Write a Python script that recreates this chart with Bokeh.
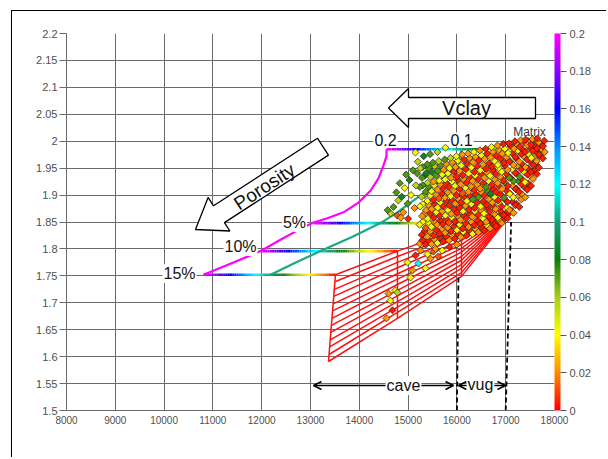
import math
from bokeh.plotting import figure
from bokeh.models import (ColorBar, LinearColorMapper, FixedTicker, CustomJSTickFormatter,
                          Label, Arrow, OpenHead, ColumnDataSource)
from bokeh.embed import file_html
from bokeh.resources import INLINE

# ---------------- data ----------------
x_ticks = [8000, 9000, 10000, 11000, 12000, 13000, 14000, 15000, 16000, 17000, 18000]
y_ticks = [1.5, 1.55, 1.6, 1.65, 1.7, 1.75, 1.8, 1.85, 1.9, 1.95, 2.0, 2.05, 2.1, 2.15, 2.2]
vclay_ticks = [0, 0.02, 0.04, 0.06, 0.08, 0.1, 0.12, 0.14, 0.16, 0.18, 0.2]

# horizontal Vclay lines (porosity 0, 5%, 10%, 15%)
line_vpvs = [1.985, 1.848, 1.796, 1.752]
line_x_clay20 = [14560, 13067, 11975, 10807]   # Vclay = 0.2 end
line_x_clay0 = [17630, 15868, 14782, 13512]    # Vclay = 0 end

# Vclay = 0.2 curve (magenta)
clay20_x = [14560, 14557, 14496, 14393, 14230, 13984, 13676, 13348, 13061, 12727, 12385, 11975, 11422, 10807]
clay20_y = [1.985, 1.972, 1.955, 1.931, 1.908, 1.886, 1.868, 1.857, 1.849, 1.834, 1.817, 1.796, 1.775, 1.752]
# Vclay = 0.1 curve (teal)
clay10_x = [16094, 16050, 15930, 15663, 15350, 15049, 14750, 14434, 13850, 13205, 12700, 12180]
clay10_y = [1.985, 1.968, 1.950, 1.927, 1.905, 1.886, 1.866, 1.848, 1.822, 1.796, 1.775, 1.752]

# red cave mesh
mesh_left_x = [13512, 13500, 13488, 13476, 13464, 13452, 13440, 13428, 13416, 13404, 13392, 13380, 13368]
mesh_left_y = [1.752, 1.739, 1.725, 1.712, 1.698, 1.685, 1.671, 1.658, 1.645, 1.631, 1.618, 1.604, 1.591]
mesh_col_x = [14782, 16094]
mesh_col1_y = [1.796, 1.786, 1.775, 1.765, 1.754, 1.744, 1.734, 1.723, 1.713, 1.702, 1.692, 1.682, 1.671]
mesh_col2_y = [1.838, 1.831, 1.823, 1.816, 1.808, 1.801, 1.794, 1.786, 1.779, 1.771, 1.764, 1.756, 1.749]
mesh_right_x = [17160, 17155, 17150, 17145, 17140, 17135, 17130, 17125, 17120, 17115, 17110, 17105, 17100]
mesh_right_y = [1.876, 1.875, 1.874, 1.873, 1.872, 1.871, 1.870, 1.869, 1.868, 1.867, 1.866, 1.865, 1.864]

# cave / vug cut-offs (dashed)
cutoff_x = [16000, 17000]
cutoff_top_x = [16032, 17111]
cutoff_top_y = [1.751, 1.850]

# well-log samples, group 1: impedance, Vp/Vs, Vclay
well1_x = [
    15240, 15280, 15235, 15285, 15245, 15275, 15240, 15285, 15250,
    15360, 15400, 15355, 15405, 15365, 15395, 15360, 15400, 15370, 15395,
    15480, 15520, 15475, 15525, 15485, 15515, 15480, 15520, 15490, 15510,
    15600, 15640, 15595, 15645, 15605, 15635, 15600, 15640, 15610, 15630,
    15720, 15760, 15715, 15765, 15725, 15755, 15720, 15760, 15730, 15750,
    15840, 15880, 15835, 15885, 15845, 15875, 15840, 15880, 15850, 15870,
    15960, 16000, 15955, 16005, 15965, 15995, 15960, 16000, 15970, 15990,
    16080, 16120, 16075, 16125, 16085, 16115, 16080, 16120, 16090, 16110,
    16200, 16240, 16195, 16245, 16205, 16235, 16200, 16240, 16210, 16230,
    16320, 16360, 16315, 16365, 16325, 16355, 16320, 16360, 16330, 16350,
    16440, 16480, 16435, 16485, 16445, 16475, 16440, 16480, 16450, 16470,
    16560, 16600, 16555, 16605, 16565, 16595, 16560, 16600, 16570, 16590,
    16680, 16720, 16675, 16725, 16685, 16715, 16680, 16720, 16690, 16710,
    16800, 16840, 16795, 16845, 16805, 16835, 16800, 16840, 16810, 16830,
    16920, 16960, 16915, 16965, 16925, 16955, 16920, 16960, 16930, 16950,
    17040, 17080, 17035, 17085, 17045, 17075, 17040, 17080, 17050, 17070,
    17160, 17200, 17155, 17205, 17165, 17195, 17160, 17200, 17170, 17190,
    17280, 17320, 17275, 17325, 17285, 17315, 17280, 17320, 17290, 17310,
    17400, 17440, 17395, 17445, 17405, 17435, 17400, 17440, 17410,
    17520, 17560, 17515, 17565, 17525, 17555, 17520, 17550,
    17640, 17680, 17635, 17685, 17645, 17675, 17650,
    17760, 17800, 17765, 17790,
    14760, 14800, 14830, 14870, 14900, 14930, 14960, 14990, 15030, 15060, 15100, 15130, 15160,
    15190, 14780, 14850, 14700, 14640, 14580, 15000, 15200, 15151, 15766, 15320, 15450, 15600,
    14598, 14639, 14680, 14557, 14741, 14782, 14987, 15090, 15212, 15356, 15458, 15151, 15253,
    15049, 15400, 15520, 15294, 15560, 15700, 15850, 16000, 15620,
]
well1_y = [
    1.810, 1.826, 1.845, 1.861, 1.879, 1.897, 1.915, 1.932, 1.950,
    1.808, 1.823, 1.839, 1.856, 1.872, 1.889, 1.906, 1.923, 1.941, 1.957,
    1.809, 1.825, 1.841, 1.858, 1.874, 1.891, 1.907, 1.925, 1.943, 1.960,
    1.811, 1.828, 1.845, 1.861, 1.877, 1.894, 1.910, 1.927, 1.945, 1.963,
    1.814, 1.830, 1.846, 1.862, 1.879, 1.895, 1.912, 1.929, 1.947, 1.966,
    1.816, 1.833, 1.849, 1.865, 1.881, 1.898, 1.915, 1.932, 1.950, 1.969,
    1.819, 1.835, 1.851, 1.867, 1.884, 1.900, 1.917, 1.934, 1.952, 1.972,
    1.822, 1.838, 1.854, 1.870, 1.886, 1.903, 1.920, 1.937, 1.955, 1.975,
    1.825, 1.841, 1.857, 1.873, 1.889, 1.906, 1.923, 1.940, 1.958, 1.977,
    1.828, 1.844, 1.860, 1.876, 1.892, 1.909, 1.926, 1.943, 1.961, 1.980,
    1.831, 1.847, 1.863, 1.879, 1.896, 1.912, 1.929, 1.946, 1.964, 1.983,
    1.834, 1.850, 1.866, 1.882, 1.899, 1.915, 1.932, 1.949, 1.967, 1.986,
    1.838, 1.854, 1.870, 1.886, 1.902, 1.919, 1.936, 1.953, 1.970, 1.989,
    1.842, 1.858, 1.874, 1.890, 1.906, 1.922, 1.939, 1.956, 1.973, 1.992,
    1.848, 1.863, 1.879, 1.895, 1.911, 1.927, 1.943, 1.960, 1.977, 1.995,
    1.857, 1.872, 1.887, 1.902, 1.917, 1.932, 1.947, 1.962, 1.978, 1.996,
    1.867, 1.881, 1.896, 1.911, 1.926, 1.941, 1.956, 1.971, 1.986, 2.000,
    1.878, 1.892, 1.906, 1.920, 1.934, 1.948, 1.962, 1.976, 1.990, 2.002,
    1.896, 1.910, 1.924, 1.938, 1.952, 1.966, 1.980, 1.993, 2.003,
    1.917, 1.930, 1.943, 1.956, 1.969, 1.982, 1.994, 2.004,
    1.939, 1.951, 1.963, 1.975, 1.987, 1.998, 2.005,
    1.968, 1.980, 1.991, 2.001,
    1.905, 1.890, 1.922, 1.897, 1.868, 1.913, 1.938, 1.884, 1.928, 1.900, 1.946, 1.876, 1.918,
    1.940, 1.862, 1.858, 1.878, 1.866, 1.872, 1.856, 1.962, 1.979, 1.988, 1.972, 1.976, 1.980,
    1.717, 1.704, 1.686, 1.671, 1.723, 1.719, 1.775, 1.760, 1.773, 1.764, 1.782, 1.788, 1.797,
    1.747, 1.790, 1.795, 1.816, 1.800, 1.797, 1.804, 1.808, 1.786,
]
well1_vclay = [
    0.022, 0.004, 0.042, 0.022, 0.042, 0.056, 0.072, 0.072, 0.056,
    0.004, 0.022, 0.012, 0.042, 0.022, 0.042, 0.072, 0.056, 0.086, 0.072,
    0.022, 0.004, 0.042, 0.004, 0.022, 0.004, 0.042, 0.022, 0.086, 0.072,
    0.042, 0.004, 0.022, 0.004, 0.042, 0.012, 0.022, 0.042, 0.072, 0.056,
    0.004, 0.022, 0.004, 0.042, 0.004, 0.022, 0.004, 0.042, 0.022, 0.072,
    0.022, 0.004, 0.012, 0.022, 0.004, 0.042, 0.004, 0.022, 0.042, 0.056,
    0.004, 0.042, 0.004, 0.004, 0.022, 0.004, 0.042, 0.004, 0.022, 0.042,
    0.022, 0.004, 0.022, 0.042, 0.004, 0.012, 0.022, 0.004, 0.042, 0.022,
    0.004, 0.022, 0.004, 0.004, 0.042, 0.022, 0.004, 0.042, 0.004, 0.022,
    0.042, 0.004, 0.022, 0.004, 0.072, 0.004, 0.022, 0.004, 0.022, 0.042,
    0.022, 0.004, 0.004, 0.042, 0.072, 0.022, 0.004, 0.042, 0.004, 0.022,
    0.004, 0.022, 0.042, 0.004, 0.004, 0.072, 0.022, 0.004, 0.022, 0.004,
    0.022, 0.004, 0.004, 0.022, 0.086, 0.004, 0.042, 0.004, 0.022, 0.042,
    0.004, 0.042, 0.022, 0.004, 0.004, 0.022, 0.004, 0.042, 0.004, 0.022,
    0.022, 0.004, 0.004, 0.072, 0.022, 0.004, 0.042, 0.004, 0.022, 0.004,
    0.004, 0.022, 0.004, 0.042, 0.004, 0.072, 0.022, 0.004, 0.042, 0.004,
    0.022, 0.004, 0.042, 0.004, 0.072, 0.004, 0.022, 0.004, 0.022, 0.004,
    0.004, 0.022, 0.004, 0.004, 0.072, 0.004, 0.022, 0.004, 0.004, 0.022,
    0.022, 0.004, 0.042, 0.004, 0.022, 0.004, 0.004, 0.022, 0.004,
    0.004, 0.022, 0.004, 0.004, 0.042, 0.004, 0.004, 0.022,
    0.004, 0.004, 0.022, 0.004, 0.004, 0.022, 0.004,
    0.004, 0.022, 0.004, 0.004,
    0.072, 0.056, 0.072, 0.086, 0.022, 0.042, 0.072, 0.072, 0.086, 0.042, 0.072, 0.022, 0.056,
    0.072, 0.012, 0.022, 0.072, 0.056, 0.072, 0.004, 0.056, 0.042, 0.042, 0.086, 0.072, 0.056,
    0.022, 0.042, 0.004, 0.022, 0.042, 0.056, 0.042, 0.022, 0.12, 0.042, 0.022, 0.004, 0.022,
    0.042, 0.042, 0.012, 0.004, 0.022, 0.042, 0.004, 0.022, 0.012,
]

# well-log samples, group 2
well2_x = [
    15300, 15340, 15300, 15340, 15300, 15340, 15300, 15340, 15300,
    15420, 15460, 15420, 15460, 15420, 15460, 15420, 15460, 15420,
    15540, 15580, 15540, 15580, 15540, 15580, 15540, 15580, 15540,
    15660, 15700, 15660, 15700, 15660, 15700, 15660, 15700, 15660,
    15780, 15820, 15780, 15820, 15780, 15820, 15780, 15820, 15780,
    15900, 15940, 15900, 15940, 15900, 15940, 15900, 15940, 15900,
    16020, 16060, 16020, 16060, 16020, 16060, 16020, 16060, 16020,
    16140, 16180, 16140, 16180, 16140, 16180, 16140, 16180, 16140,
    16260, 16300, 16260, 16300, 16260, 16300, 16260, 16300, 16260,
    16380, 16420, 16380, 16420, 16380, 16420, 16380, 16420, 16380,
    16500, 16540, 16500, 16540, 16500, 16540, 16500, 16540, 16500,
    16620, 16660, 16620, 16660, 16620, 16660, 16620, 16660, 16620,
    16740, 16780, 16740, 16780, 16740, 16780, 16740, 16780, 16740,
    16860, 16900, 16860, 16900, 16860, 16900, 16860, 16900, 16860,
    16980, 17020, 16980, 17020, 16980, 17020, 16980, 17020, 16980,
    17100, 17140, 17100, 17140, 17100, 17140, 17100, 17140, 17100,
    17220, 17260, 17220, 17260, 17220, 17260, 17220, 17260, 17220,
    17340, 17380, 17340, 17380, 17340, 17380, 17340, 17380,
    17460, 17500, 17460, 17500, 17460, 17500, 17460,
    17580, 17620, 17580, 17620, 17580, 17620,
    17700, 17740, 17700,
]
well2_y = [
    1.816, 1.833, 1.850, 1.866, 1.883, 1.900, 1.918, 1.936, 1.952,
    1.816, 1.832, 1.849, 1.866, 1.882, 1.899, 1.916, 1.934, 1.951,
    1.818, 1.835, 1.851, 1.868, 1.884, 1.901, 1.918, 1.936, 1.954,
    1.821, 1.837, 1.853, 1.870, 1.886, 1.903, 1.920, 1.938, 1.956,
    1.823, 1.839, 1.856, 1.872, 1.889, 1.905, 1.922, 1.940, 1.958,
    1.826, 1.842, 1.858, 1.875, 1.891, 1.908, 1.925, 1.943, 1.961,
    1.828, 1.845, 1.861, 1.877, 1.894, 1.911, 1.928, 1.945, 1.964,
    1.831, 1.847, 1.863, 1.880, 1.897, 1.913, 1.930, 1.948, 1.966,
    1.834, 1.850, 1.866, 1.883, 1.899, 1.916, 1.933, 1.951, 1.969,
    1.837, 1.853, 1.869, 1.886, 1.902, 1.919, 1.936, 1.953, 1.971,
    1.840, 1.856, 1.872, 1.888, 1.905, 1.922, 1.939, 1.956, 1.974,
    1.844, 1.860, 1.876, 1.892, 1.909, 1.925, 1.942, 1.959, 1.977,
    1.848, 1.864, 1.880, 1.896, 1.912, 1.929, 1.946, 1.963, 1.980,
    1.854, 1.870, 1.885, 1.901, 1.917, 1.933, 1.950, 1.967, 1.984,
    1.862, 1.877, 1.892, 1.908, 1.923, 1.939, 1.955, 1.970, 1.986,
    1.872, 1.887, 1.902, 1.917, 1.932, 1.947, 1.962, 1.977, 1.991,
    1.884, 1.898, 1.912, 1.926, 1.940, 1.954, 1.968, 1.982, 1.995,
    1.901, 1.915, 1.929, 1.943, 1.957, 1.971, 1.985, 1.998,
    1.922, 1.936, 1.950, 1.963, 1.976, 1.989, 2.000,
    1.945, 1.957, 1.969, 1.981, 1.993, 2.003,
    1.973, 1.985, 1.996,
]
well2_vclay = [
    0.022, 0.004, 0.042, 0.022, 0.042, 0.056, 0.072, 0.086, 0.072,
    0.004, 0.022, 0.042, 0.004, 0.022, 0.042, 0.072, 0.056, 0.072,
    0.022, 0.004, 0.022, 0.042, 0.004, 0.022, 0.042, 0.072, 0.056,
    0.004, 0.022, 0.004, 0.022, 0.042, 0.004, 0.022, 0.042, 0.072,
    0.004, 0.022, 0.004, 0.042, 0.004, 0.022, 0.004, 0.042, 0.022,
    0.022, 0.004, 0.042, 0.004, 0.004, 0.022, 0.042, 0.004, 0.022,
    0.004, 0.042, 0.022, 0.004, 0.022, 0.004, 0.004, 0.022, 0.042,
    0.042, 0.004, 0.004, 0.022, 0.004, 0.042, 0.022, 0.004, 0.004,
    0.004, 0.022, 0.004, 0.042, 0.004, 0.022, 0.004, 0.042, 0.022,
    0.022, 0.004, 0.042, 0.004, 0.004, 0.022, 0.042, 0.004, 0.022,
    0.004, 0.042, 0.022, 0.004, 0.022, 0.004, 0.004, 0.022, 0.042,
    0.042, 0.004, 0.004, 0.022, 0.072, 0.042, 0.022, 0.004, 0.004,
    0.004, 0.022, 0.004, 0.042, 0.004, 0.022, 0.004, 0.042, 0.022,
    0.022, 0.004, 0.042, 0.004, 0.004, 0.022, 0.042, 0.004, 0.022,
    0.004, 0.042, 0.022, 0.004, 0.072, 0.004, 0.004, 0.022, 0.042,
    0.042, 0.004, 0.004, 0.022, 0.004, 0.042, 0.022, 0.004, 0.004,
    0.004, 0.022, 0.004, 0.072, 0.004, 0.022, 0.004, 0.042, 0.022,
    0.022, 0.004, 0.004, 0.042, 0.004, 0.022, 0.004, 0.004,
    0.004, 0.022, 0.004, 0.004, 0.042, 0.004, 0.022,
    0.004, 0.004, 0.022, 0.004, 0.004, 0.022,
    0.004, 0.022, 0.004,
]

# ---------------- helpers (layout only) ----------------
def sx(px):
    return 8000 + (px - 66) * 10000 / 488

def sy(py):
    return 1.5 + (410 - py) * 0.7 / 377

anchors = ["#ff0000", "#ff8c00", "#ffff00", "#a8cc20", "#0a7d0a", "#12a078",
           "#00ffff", "#0090ff", "#0000ff", "#8a00ff", "#ff00ff"]

def _hex(c):
    return tuple(int(c[i:i + 2], 16) for i in (1, 3, 5))

palette = []
steps = 20
for a in range(len(anchors) - 1):
    c0, c1 = _hex(anchors[a]), _hex(anchors[a + 1])
    for s in range(steps):
        t = s / steps
        rgb = [round(c0[k] + (c1[k] - c0[k]) * t) for k in range(3)]
        palette.append("#%02x%02x%02x" % tuple(rgb))
palette.append(anchors[-1])

mapper = LinearColorMapper(palette=palette, low=0, high=0.2)

FONT = "'Liberation Sans', Arial, sans-serif"

# figure box: left/top edge at page (11, 10), canvas at (12, 11)
p = figure(width=595, height=447, x_range=(8000, 18000), y_range=(1.5, 2.2),
           output_backend="svg", toolbar_location=None,
           min_border_left=54, min_border_right=53, min_border_top=22, min_border_bottom=48,
           margin=(10, 0, 0, 11),
           styles={"border-top": "1px solid #000", "border-left": "1px solid #000"})
p.outline_line_color = None
p.background_fill_color = "white"
p.border_fill_color = "white"

p.xaxis.ticker = FixedTicker(ticks=x_ticks)
p.yaxis.ticker = FixedTicker(ticks=y_ticks)
p.xaxis.formatter = CustomJSTickFormatter(code="return tick.toString()")
p.yaxis.formatter = CustomJSTickFormatter(code="return tick.toString()")
p.xgrid.ticker = FixedTicker(ticks=x_ticks)
p.ygrid.ticker = FixedTicker(ticks=y_ticks)
for g in (p.xgrid, p.ygrid):
    g.grid_line_color = "#6a6a6a"
    g.grid_line_width = 1
    g.grid_line_alpha = 1

for ax in (p.xaxis, p.yaxis):
    ax.axis_line_color = "#6a6a6a"
    ax.major_tick_line_color = "#6a6a6a"
    ax.minor_tick_line_color = None
    ax.major_tick_in = 0
    ax.major_label_text_color = "#505050"
    ax.major_label_text_font = FONT
p.yaxis.major_tick_out = 7
p.yaxis.major_label_standoff = 2
p.yaxis.major_label_text_font_size = "11px"
p.xaxis.major_tick_out = 0
p.xaxis.major_label_standoff = 5
p.xaxis.major_label_text_font_size = "10px"

# horizontal Vclay gradient lines
N = 60
gx0, gx1, gy, gv = [], [], [], []
for xa, xb, yv in zip(line_x_clay20, line_x_clay0, line_vpvs):
    for k in range(N):
        t0, t1 = k / N, (k + 1) / N
        gx0.append(xa + (xb - xa) * t0)
        gx1.append(xa + (xb - xa) * t1)
        gy.append(yv)
        gv.append(0.2 * (1 - (t0 + t1) / 2))
gsrc = ColumnDataSource(dict(x0=gx0, y0=gy, x1=gx1, y1=gy, v=gv))
p.segment(x0="x0", y0="y0", x1="x1", y1="y1", source=gsrc,
          line_color={"field": "v", "transform": mapper}, line_width=2.6)

p.line(clay20_x, clay20_y, line_color="#ff00ff", line_width=2.2)
p.line(clay10_x, clay10_y, line_color="#1aa885", line_width=2.2)

# red mesh
mx = [[a, mesh_col_x[0], mesh_col_x[1], d] for a, d in zip(mesh_left_x, mesh_right_x)]
my = [[a, b, c, d] for a, b, c, d in zip(mesh_left_y, mesh_col1_y, mesh_col2_y, mesh_right_y)]
p.multi_line(mx, my, line_color="#ff1010", line_width=1.5)
p.multi_line([mesh_left_x, [mesh_col_x[0]] * len(mesh_col1_y), [mesh_col_x[1]] * len(mesh_col2_y)],
             [mesh_left_y, mesh_col1_y, mesh_col2_y], line_color="#ff1010", line_width=1.5)

# well data
wsrc = ColumnDataSource(dict(x=well2_x + well1_x, y=well2_y + well1_y, v=well2_vclay + well1_vclay))
p.scatter("x", "y", source=wsrc, marker="square", angle=math.pi / 4, size=5,
          fill_color={"field": "v", "transform": mapper}, line_color="#2a1a10", line_width=0.7)

# cut-off dashed lines
p.segment(x0=cutoff_x, y0=[1.5, 1.5], x1=cutoff_top_x, y1=cutoff_top_y,
          line_color="black", line_width=1.8, line_dash="5 3")

# block arrows
va = [(388, 107.5), (408, 88), (408, 97), (535, 97), (535, 118), (408, 118), (408, 127)]
p.patch([sx(a) for a, b in va], [sy(b) for a, b in va], fill_color="white",
        line_color="black", line_width=1.3)
pa = [(195, 229), (207.6, 196.9), (213.05, 205.3), (317.05, 137.8), (327.95, 154.6),
      (223.95, 222.1), (229.4, 230.5)]
p.patch([sx(a) for a, b in pa], [sy(b) for a, b in pa], fill_color="white",
        line_color="black", line_width=1.3)

# cave / vug arrows
for xa, xb in ((sx(313), sx(453)), (sx(458), sx(505))):
    p.add_layout(Arrow(start=OpenHead(size=8, line_width=1.6), end=OpenHead(size=8, line_width=1.6),
                       x_start=xa, y_start=sy(385), x_end=xb, y_end=sy(385), line_width=1.6))

def lab(text, px, py, size, bg=None, angle=0.0, color="#111111", font=FONT,
        align="center", baseline="middle"):
    p.add_layout(Label(x=sx(px), y=sy(py), text=text, text_font=font, text_font_size=size,
                       text_align=align, text_baseline=baseline, angle=angle,
                       text_color=color, background_fill_color=bg, padding=1))

lab("0.2", 385, 139, "16px", "white")
lab("0.1", 461, 139, "16px", "white")
lab("Matrix", 529, 131, "12px", None, color="#333333")
lab("5%", 294, 222, "16px", "white")
lab("10%", 240, 246, "16px", "white")
lab("15%", 179, 273, "16px", "white")
lab("cave", 403, 385, "16px", "white")
lab("vug", 480, 384, "16px", "white")
lab("Vclay", 466, 107, "20px")
lab("Porosity", 264, 186, "19px", None, angle=math.radians(33))
lab("Vp/Vs", 29, 195, "20px", None, angle=math.pi / 2)
lab("P-Impedance(g/cc×m/s)", 324, 446, "18px")
lab("Vclay", 595, 207, "20px", None, angle=math.pi / 2)

cb = ColorBar(color_mapper=mapper, ticker=FixedTicker(ticks=vclay_ticks),
              formatter=CustomJSTickFormatter(code="return tick.toString()"),
              width=6, padding=0, margin=0, location=(0, 0), bar_line_color=None,
              major_tick_in=0, major_tick_out=6, major_tick_line_color="#555555",
              major_label_text_font=FONT, major_label_text_font_size="11px",
              major_label_text_color="#505050", label_standoff=3,
              background_fill_color=None, border_line_color=None)
p.add_layout(cb, "right")

open("out.html", "w").write(file_html(p, INLINE))
